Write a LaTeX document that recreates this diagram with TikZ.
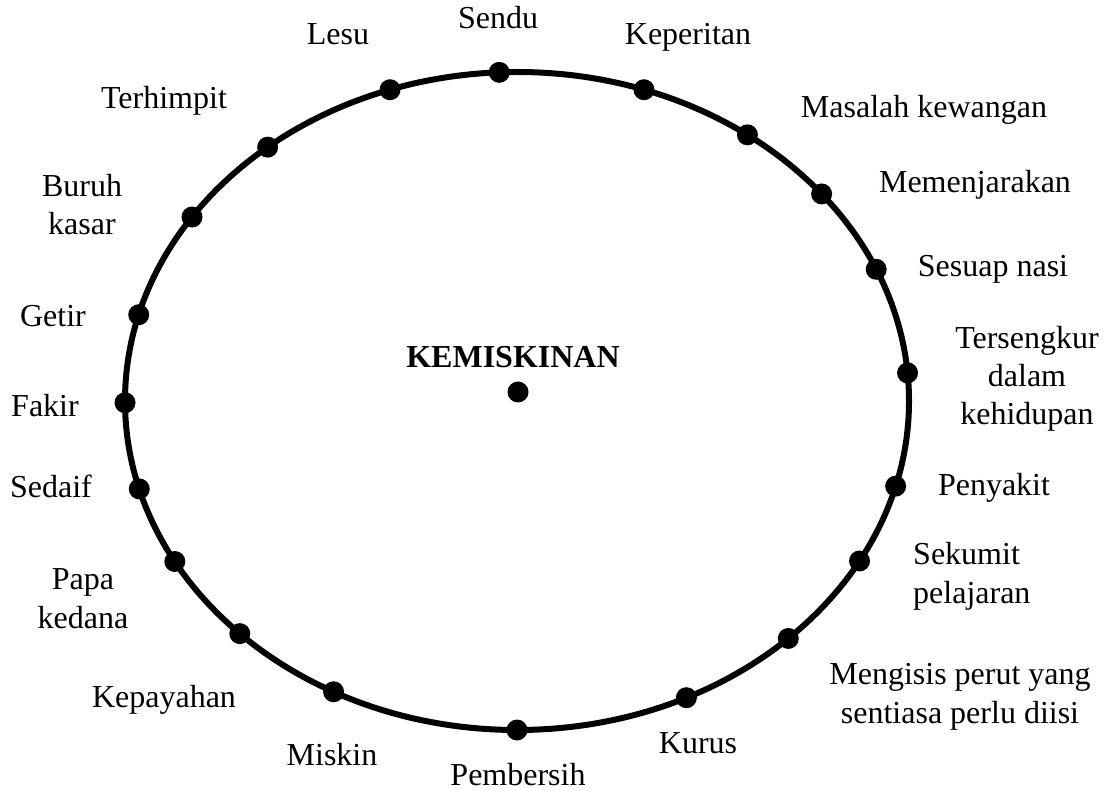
\documentclass[tikz,border=0pt]{standalone}
\usepackage{fontspec}
\setmainfont{Liberation Serif}
\begin{document}
\begin{tikzpicture}[x=1pt,y=1pt,
  spot/.style={circle,fill=black,inner sep=0pt,minimum size=21pt},
  word/.style={font=\fontsize{32}{38.4}\selectfont,anchor=base,inner sep=0pt}]
  \useasboundingbox (0,0) rectangle (1115,790);

  % Ring
  \coordinate (c) at (517,389);
  \draw[line width=6pt] (c) ellipse [x radius=392, y radius=329];

  % Centre
  \node[spot] (pusat) at (518,398) {};
  \node[word,font=\fontsize{32}{38.4}\selectfont\bfseries] (tajuk) at (513,422) {KEMISKINAN};

  % Points on the ring
  \path (c) ++(92.6:392 and 329)  node[spot] (sendu) {};
  \path (c) ++(108.9:392 and 329) node[spot] (lesu) {};
  \path (c) ++(129.5:392 and 329) node[spot] (terhimpit) {};
  \path (c) ++(146.0:392 and 329) node[spot] (buruh) {};
  \path (c) ++(164.8:392 and 329) node[spot] (getir) {};
  \path (c) ++(180.3:392 and 329) node[spot] (fakir) {};
  \path (c) ++(195.5:392 and 329) node[spot] (sedaif) {};
  \path (c) ++(209.2:392 and 329) node[spot] (papa) {};
  \path (c) ++(225.0:392 and 329) node[spot] (kepayahan) {};
  \path (c) ++(242.1:392 and 329) node[spot] (miskin) {};
  \path (c) ++(270.0:392 and 329) node[spot] (pembersih) {};
  \path (c) ++(295.6:392 and 329) node[spot] (kurus) {};
  \path (c) ++(313.8:392 and 329) node[spot] (mengisis) {};
  \path (c) ++(330.9:392 and 329) node[spot] (sekumit) {};
  \path (c) ++(345.0:392 and 329) node[spot] (penyakit) {};
  \path (c) ++(4.9:392 and 329)   node[spot] (tersengkur) {};
  \path (c) ++(23.6:392 and 329)  node[spot] (sesuap) {};
  \path (c) ++(39.0:392 and 329)  node[spot] (penjara) {};
  \path (c) ++(54.0:392 and 329)  node[spot] (wang) {};
  \path (c) ++(71.1:392 and 329)  node[spot] (keperitan) {};

  % Labels (multi-line ones sit on their last line)
  \node[word] (l-sendu) at (498,761) {Sendu};
  \node[word] (l-lesu) at (338,745) {Lesu};
  \node[word] (l-keperitan) at (688,745) {Keperitan};
  \node[word] (l-terhimpit) at (164,681) {Terhimpit};
  \node[word] (l-wang) at (924,672) {Masalah kewangan};
  \node[word,align=center] (l-buruh) at (82,555) {Buruh\\kasar};
  \node[word] (l-penjara) at (975,597) {Memenjarakan};
  \node[word] (l-sesuap) at (993,513) {Sesuap nasi};
  \node[word] (l-getir) at (53,463) {Getir};
  \node[word,align=center] (l-tersengkur) at (1027,365) {Tersengkur\\dalam\\kehidupan};
  \node[word] (l-fakir) at (45,373) {Fakir};
  \node[word] (l-sedaif) at (51,292) {Sedaif};
  \node[word] (l-penyakit) at (994,294) {Penyakit};
  \node[word,align=left,anchor=base west] (l-sekumit) at (913,187) {Sekumit\\pelajaran};
  \node[word,align=center] (l-papa) at (83,162) {Papa\\kedana};
  \node[word,align=center] (l-mengisis) at (960,67) {Mengisis perut yang\\sentiasa perlu diisi};
  \node[word] (l-kepayahan) at (164,83) {Kepayahan};
  \node[word] (l-kurus) at (698,37) {Kurus};
  \node[word] (l-miskin) at (332,25) {Miskin};
  \node[word] (l-pembersih) at (518,5) {Pembersih};
\end{tikzpicture}
\end{document}
